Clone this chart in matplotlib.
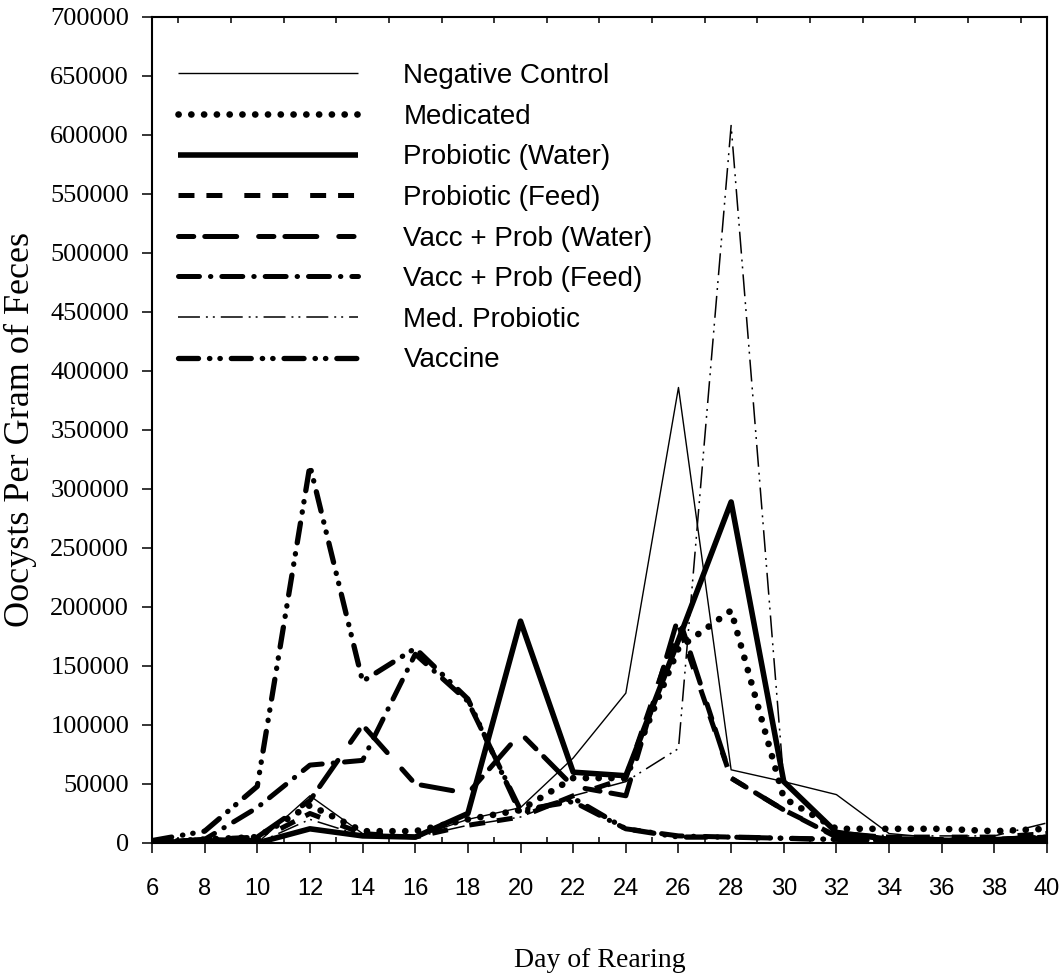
'''Oocyst counts per gram of feces over the rearing period, one line per treatment'''
import matplotlib
matplotlib.use('Agg')
import matplotlib.pyplot as plt
from matplotlib.ticker import MultipleLocator, FixedLocator

plt.rcParams['lines.scale_dashes'] = False

# Values (oocysts per gram)
days = [6, 8, 10, 12, 14, 16, 18, 20, 22, 24, 26, 28, 30, 32, 34, 36, 38, 40]

neg_control = [0, 2000, 0, 40000, 8000, 5000, 20000, 30000, 72000, 127000,
               386000, 62000, 52000, 41000, 8000, 4000, 3000, 6000]
medicated = [0, 3000, 5000, 32000, 10000, 10000, 20000, 28000, 55000, 55000,
             165000, 197000, 38000, 12000, 12000, 12000, 10000, 12000]
probiotic_water = [0, 2000, 0, 12000, 6000, 5000, 25000, 188000, 60000, 57000,
                   172000, 289000, 52000, 9000, 3000, 2000, 2000, 3000]
probiotic_feed = [0, 3000, 2000, 25000, 8000, 5000, 15000, 22000, 40000, 55000,
                  185000, 55000, 28000, 6000, 5000, 5000, 5000, 8000]
vacc_prob_water = [0, 3000, 5000, 36000, 100000, 50000, 42000, 93000, 48000, 40000,
                   192000, 55000, 28000, 5000, 3000, 3000, 3000, 5000]
vacc_prob_feed = [0, 3000, 30000, 66000, 70000, 160000, 120000, 28000, 35000, 12000,
                  6000, 5000, 4000, 3000, 2000, 3000, 3000, 5000]
med_probiotic = [0, 0, 0, 20000, 6000, 5000, 15000, 22000, 40000, 52000,
                 80000, 608000, 52000, 10000, 6000, 6000, 6000, 17000]
vaccine = [2000, 10000, 48000, 320000, 137000, 165000, 122000, 25000, 38000, 12000,
           5000, 5000, 4000, 3000, 2000, 2000, 3000, 5000]

y_ticks = list(range(0, 700001, 50000))

labels = ['Negative Control', 'Medicated', 'Probiotic (Water)', 'Probiotic (Feed)',
          'Vacc + Prob (Water)', 'Vacc + Prob (Feed)', 'Med. Probiotic', 'Vaccine']
series = [neg_control, medicated, probiotic_water, probiotic_feed,
          vacc_prob_water, vacc_prob_feed, med_probiotic, vaccine]

# line styles: (linewidth, dash pattern in points, capstyle)
styles = [
    (1.0, '-', 'butt'),
    (4.8, (0, (0.1, 9.1)), 'round'),
    (4.0, '-', 'butt'),
    (3.6, (0, (11.5, 8.6, 11.5, 15.8)), 'butt'),
    (3.6, (0, (11.0, 7.9, 23.0, 15.8)), 'round'),
    (3.6, (0, (15.1, 7.9, 0.3, 7.9)), 'round'),
    (1.1, (0, (15.8, 4.3, 1.4, 3.6, 1.4, 4.3)), 'butt'),
    (3.8, (0, (14.4, 7.9, 0.3, 7.2, 0.3, 7.9)), 'round'),
]

fig = plt.figure(figsize=(10.62, 9.75), dpi=100)
ax = fig.add_axes([0.1431, 0.1354, 0.8428, 0.8472])

for vals, lab, (lw, ls, cap) in zip(series, labels, styles):
    ax.plot(days, vals, color='black', linewidth=lw, linestyle=ls,
            dash_capstyle=cap, solid_capstyle='butt', label=lab)

ax.xaxis.set_major_locator(MultipleLocator(2))
ax.xaxis.set_minor_locator(FixedLocator(list(range(7, 40, 2))))
ax.set_yticks(y_ticks)
ax.set_yticklabels([str(v) for v in y_ticks], fontfamily='Liberation Serif')
ax.set_xlim(6, 40)
ax.set_ylim(0, 700000)

for sp in ax.spines.values():
    sp.set_linewidth(1.5)

ax.tick_params(axis='x', which='major', direction='out', length=7.5, width=1.1,
               pad=18, labelsize=17, top=False)
ax.tick_params(axis='x', which='minor', direction='in', length=4.5, width=1.1,
               top=True, bottom=True)
ax.tick_params(axis='y', which='major', direction='out', length=7.5, width=1.1,
               pad=9, labelsize=19, right=False)

for lbl in ax.get_xticklabels():
    lbl.set_fontfamily('Liberation Sans')

ax.set_xlabel('Day of Rearing', fontfamily='Liberation Serif', fontsize=20, labelpad=34)
ax.set_ylabel('Oocysts Per Gram of Feces', fontfamily='Liberation Serif', fontsize=26)
ax.yaxis.set_label_coords(-0.128, 0.5)

leg = ax.legend(loc='upper left', bbox_to_anchor=(0.029, 0.944), frameon=False,
                prop={'family': 'Liberation Sans', 'size': 20},
                handlelength=6.5, handletextpad=1.62, labelspacing=0.525,
                borderpad=0, borderaxespad=0)

fig.savefig('out.png', dpi=100)
